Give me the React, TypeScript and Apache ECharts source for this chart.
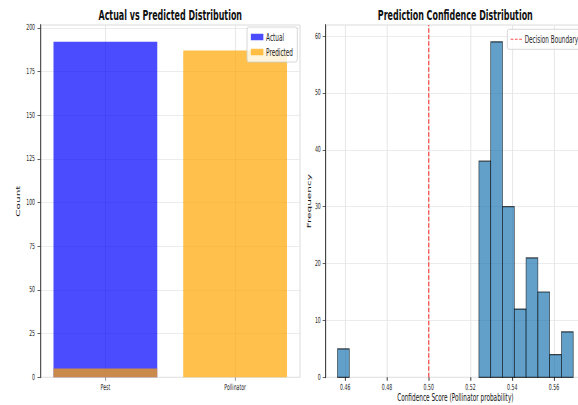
import React, { useEffect, useRef } from 'react';
import * as echarts from 'echarts';

// ---- data ----
const categories = ['Pest', 'Pollinator'];
const actualCounts = [192, 0];
const predictedCounts = [5, 187];
const countTicks = [0, 25, 50, 75, 100, 125, 150, 175, 200];

const binEdges = [
  0.4563, 0.46195, 0.46759, 0.47324, 0.47888, 0.48453, 0.49017, 0.49582,
  0.50146, 0.50711, 0.51275, 0.5184, 0.52404, 0.52969, 0.53533, 0.54098,
  0.54662, 0.55227, 0.55791, 0.56356, 0.5692,
];
const binCounts = [5, 0, 0, 0, 0, 0, 0, 0, 0, 0, 0, 0, 38, 59, 30, 12, 21, 15, 4, 8];
const confidenceTicks = [0.46, 0.48, 0.5, 0.52, 0.54, 0.56];
const frequencyTicks = [0, 10, 20, 30, 40, 50, 60];
const decisionBoundary = 0.5;

// ---- layout (the reference is horizontally compressed) ----
const S = 0.55;
const W = 578 / S;
const H = 405;
const sx = (v: number) => v / S;
const FONT = "'DejaVu Sans', sans-serif";
const GRID_LINE = '#e6e6e6';
const TICK_FONT = 8.4;
const NAME_FONT = 10.5;
const LEGEND_FONT = 10.4;
const DASH_ICON = 'path://M0,0h9v2h-9z M14,0h9v2h-9z M28,0h9v2h-9z';

export default function App() {
  const ref = useRef<HTMLDivElement>(null);

  useEffect(() => {
    document.body.style.margin = '0';
    document.documentElement.style.overflow = 'hidden';
    if (!ref.current) return;
    const chart = echarts.init(ref.current, undefined, { renderer: 'svg' });

    const histData = binCounts
      .map((c, i) => [binEdges[i], binEdges[i + 1], c])
      .filter((d) => d[2] > 0);

    const yMaxLeft = Math.max(...actualCounts, ...predictedCounts) * 1.05;
    const yMaxRight = Math.max(...binCounts) * 1.05;
    const span = binEdges[binEdges.length - 1] - binEdges[0];
    const xMinRight = binEdges[0] - span * 0.05;
    const xMaxRight = binEdges[binEdges.length - 1] + span * 0.05;

    const option: any = {
      animation: false,
      textStyle: { fontFamily: FONT },
      title: [
        {
          text: 'Actual vs Predicted Distribution',
          left: sx(170.25),
          top: 8,
          padding: 0,
          textAlign: 'center',
          textStyle: { fontSize: 14.5, fontWeight: 'bold', color: '#111', fontFamily: FONT },
        },
        {
          text: 'Prediction Confidence Distribution',
          left: sx(455.3),
          top: 8,
          padding: 0,
          textAlign: 'center',
          textStyle: { fontSize: 14.5, fontWeight: 'bold', color: '#111', fontFamily: FONT },
        },
      ],
      legend: [
        {
          data: ['Actual', 'Predicted'],
          left: sx(247),
          top: 27,
          orient: 'vertical',
          icon: 'rect',
          itemWidth: sx(12.5),
          itemHeight: 6.5,
          itemGap: 5,
          padding: [5, 8, 5, 7],
          backgroundColor: 'rgba(255,255,255,0.8)',
          borderColor: '#cccccc',
          borderWidth: 1,
          borderRadius: 3,
          selectedMode: false,
          textStyle: { fontSize: LEGEND_FONT, color: '#222', fontFamily: FONT },
        },
        {
          data: [{ name: 'Decision Boundary', icon: DASH_ICON }],
          left: sx(507.3),
          top: 29.3,
          orient: 'vertical',
          itemWidth: sx(11.3),
          itemHeight: 1.6,
          padding: [5, 8, 5, 6],
          backgroundColor: 'rgba(255,255,255,0.8)',
          borderColor: '#cccccc',
          borderWidth: 1,
          borderRadius: 3,
          selectedMode: false,
          textStyle: { fontSize: LEGEND_FONT, color: '#222', fontFamily: FONT },
        },
      ],
      grid: [
        {
          left: sx(40.5),
          top: 25,
          width: sx(259.5),
          height: 352.3,
          show: true,
          borderColor: '#d0d0d0',
          borderWidth: 1,
          containLabel: false,
          outerBoundsMode: 'none',
        },
        {
          left: sx(325.7),
          top: 25,
          width: sx(259.3),
          height: 352.3,
          show: true,
          borderColor: '#d0d0d0',
          borderWidth: 1,
          containLabel: false,
          outerBoundsMode: 'none',
        },
      ],
      xAxis: [
        {
          type: 'category',
          gridIndex: 0,
          data: categories,
          axisLine: { show: false },
          axisTick: { show: true, alignWithLabel: true, length: 3.5, lineStyle: { color: '#999', width: 1.8 } },
          axisLabel: { fontSize: TICK_FONT, margin: 6, color: '#222', fontFamily: FONT },
          splitLine: { show: true, alignWithLabel: true, lineStyle: { color: GRID_LINE, width: 1.8 } },
        },
        {
          type: 'value',
          gridIndex: 1,
          min: xMinRight,
          max: xMaxRight,
          name: 'Confidence Score (Pollinator probability)',
          nameLocation: 'middle',
          nameGap: 14.5,
          nameMoveOverlap: false,
          nameTextStyle: { fontSize: NAME_FONT, color: '#111', fontFamily: FONT },
          axisLine: { show: false },
          axisTick: {
            show: true,
            customValues: confidenceTicks,
            length: 3.5,
            lineStyle: { color: '#333', width: 1.8 },
          },
          axisLabel: {
            customValues: confidenceTicks,
            fontSize: TICK_FONT,
            margin: 6,
            color: '#222',
            fontFamily: FONT,
            formatter: (v: number) => v.toFixed(2),
          },
          splitLine: { show: true, customValues: confidenceTicks, lineStyle: { color: GRID_LINE, width: 1.8 } },
        },
      ],
      yAxis: [
        {
          type: 'value',
          gridIndex: 0,
          min: 0,
          max: yMaxLeft,
          interval: 25,
          name: 'Count',
          nameLocation: 'middle',
          nameGap: 35,
          nameTextStyle: { fontSize: NAME_FONT, color: '#111', fontFamily: FONT },
          axisLine: { show: true, lineStyle: { color: '#333', width: 1.8 } },
          axisTick: { show: true, customValues: countTicks, length: sx(3), lineStyle: { color: '#333', width: 1 } },
          axisLabel: {
            customValues: countTicks,
            fontSize: TICK_FONT,
            margin: 10,
            color: '#222',
            fontFamily: FONT,
            formatter: (v: number) => (v % 25 === 0 ? String(v) : ''),
          },
          splitLine: { show: true, lineStyle: { color: GRID_LINE, width: 1 } },
        },
        {
          type: 'value',
          gridIndex: 1,
          min: 0,
          max: yMaxRight,
          interval: 10,
          name: 'Frequency',
          nameLocation: 'middle',
          nameGap: 25.5,
          nameTextStyle: { fontSize: NAME_FONT, color: '#111', fontFamily: FONT },
          axisLine: { show: true, lineStyle: { color: '#333', width: 1.8 } },
          axisTick: { show: true, customValues: frequencyTicks, length: sx(3), lineStyle: { color: '#333', width: 1 } },
          axisLabel: {
            customValues: frequencyTicks,
            fontSize: TICK_FONT,
            margin: 9,
            color: '#222',
            fontFamily: FONT,
            formatter: (v: number) => (v % 10 === 0 ? String(v) : ''),
          },
          splitLine: { show: true, lineStyle: { color: GRID_LINE, width: 1 } },
        },
      ],
      series: [
        {
          name: 'Actual',
          type: 'bar',
          xAxisIndex: 0,
          yAxisIndex: 0,
          data: actualCounts,
          barWidth: '80%',
          barGap: '-100%',
          itemStyle: { color: 'rgba(0,0,255,0.7)' },
        },
        {
          name: 'Predicted',
          type: 'bar',
          xAxisIndex: 0,
          yAxisIndex: 0,
          data: predictedCounts,
          barWidth: '80%',
          barGap: '-100%',
          itemStyle: { color: 'rgba(255,165,0,0.7)' },
        },
        {
          name: 'Histogram',
          type: 'custom',
          xAxisIndex: 1,
          yAxisIndex: 1,
          data: histData,
          encode: { x: [0, 1], y: 2 },
          renderItem: (params: any, api: any) => {
            const p0 = api.coord([api.value(0), api.value(2)]);
            const p1 = api.coord([api.value(1), 0]);
            return {
              type: 'rect',
              shape: { x: p0[0], y: p0[1], width: p1[0] - p0[0], height: p1[1] - p0[1] },
              style: { fill: 'rgba(31,119,180,0.7)', stroke: 'rgba(0,0,0,0.7)', lineWidth: 1.2 },
            };
          },
        },
        {
          name: 'Decision Boundary',
          type: 'line',
          xAxisIndex: 1,
          yAxisIndex: 1,
          data: [
            [decisionBoundary, 0],
            [decisionBoundary, yMaxRight],
          ],
          symbol: 'none',
          z: 5,
          lineStyle: { color: 'rgba(255,0,0,0.7)', type: [4.5, 2], width: 2.2 },
          itemStyle: { color: 'rgba(255,0,0,0.7)' },
        },
      ],
    };

    chart.setOption(option);
    return () => chart.dispose();
  }, []);

  return (
    <div
      ref={ref}
      style={{
        position: 'absolute',
        left: 0,
        top: 0,
        width: W,
        height: H,
        transform: `scaleX(${S})`,
        transformOrigin: '0 0',
        background: '#fff',
      }}
    />
  );
}
